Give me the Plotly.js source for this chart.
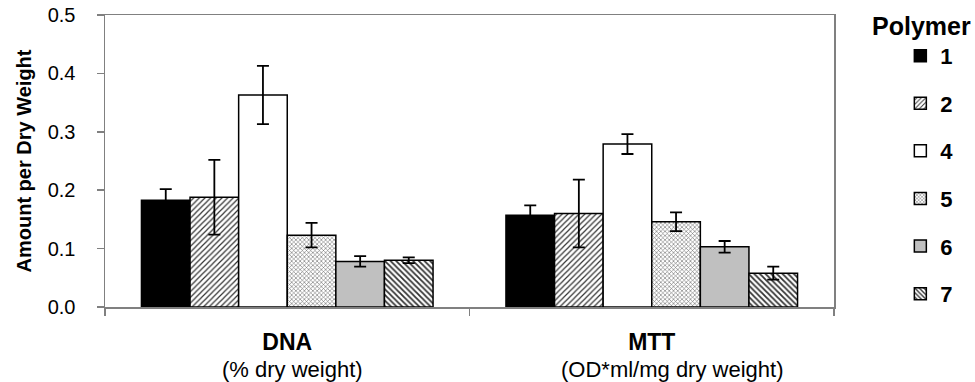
<!DOCTYPE html>
<html>
<head>
<meta charset="utf-8">
<script src="https://cdn.plot.ly/plotly-3.0.1.min.js"></script>
<style>html,body{margin:0;padding:0;background:#fff;}#chart{width:975px;height:382px;}</style>
</head>
<body>
<div id="chart"></div>
<script>
// ---- data ----
const categories = ['DNA', 'MTT'];
const subtitles = ['(% dry weight)', '(OD*ml/mg dry weight)'];
const polymers = ['1', '2', '4', '5', '6', '7'];
const values = {
  '1': [0.183, 0.157],
  '2': [0.188, 0.160],
  '4': [0.363, 0.279],
  '5': [0.123, 0.146],
  '6': [0.078, 0.103],
  '7': [0.080, 0.058]
};
const errors = {
  '1': [0.019, 0.017],
  '2': [0.064, 0.058],
  '4': [0.050, 0.017],
  '5': [0.021, 0.016],
  '6': [0.009, 0.010],
  '7': [0.005, 0.011]
};
const yTicks = [0, 0.1, 0.2, 0.3, 0.4, 0.5];

// ---- styles ----
const FONT = 'Liberation Sans, Arial, Helvetica, sans-serif';
const fills = {
  '1': {color: '#000000', pattern: {shape: ''}},
  '2': {color: '#ffffff', pattern: {shape: '/', fgcolor: '#333333', bgcolor: '#ffffff', size: 4, solidity: 0.3, fillmode: 'replace'}},
  '4': {color: '#ffffff', pattern: {shape: ''}},
  '5': {color: '#ffffff', pattern: {shape: 'x', fgcolor: '#6a6a6a', bgcolor: '#ffffff', size: 3, solidity: 0.35, fillmode: 'replace'}},
  '6': {color: '#c0c0c0', pattern: {shape: ''}},
  '7': {color: '#ffffff', pattern: {shape: '\\', fgcolor: '#333333', bgcolor: '#ffffff', size: 4, solidity: 0.45, fillmode: 'replace'}}
};

const traces = polymers.map(p => ({
  type: 'bar',
  name: '<b>' + p + '</b>',
  legendgroup: 'g' + p,
  x: categories,
  y: values[p],
  error_y: {type: 'data', array: errors[p], visible: true, color: '#000', thickness: 1.8, width: 6},
  marker: {color: fills[p].color, pattern: fills[p].pattern, line: {color: '#000', width: 1.5}},
  hoverinfo: 'skip'
}));

const annotations = categories.map((c, i) => ({
  x: c, xref: 'x', y: -0.213, yref: 'paper',
  text: subtitles[i], showarrow: false,
  xanchor: 'center', yanchor: 'middle',
  xshift: i === 0 ? 5 : 20,
  font: {family: FONT, size: 22, color: '#000'}
}));
annotations.push({
  x: 1.1207, xref: 'paper', y: 0.962, yref: 'paper',
  text: '<b>Polymer</b>', showarrow: false,
  xanchor: 'center', yanchor: 'middle',
  font: {family: FONT, size: 25, color: '#000'}
});

const layout = {
  width: 975, height: 382,
  margin: {l: 105, r: 141, t: 15, b: 75, pad: 0},
  paper_bgcolor: '#fff', plot_bgcolor: '#fff',
  font: {family: FONT, color: '#000'},
  barmode: 'group', bargap: 0.2, bargroupgap: 0,
  showlegend: true,
  legend: {
    x: 1.091, xanchor: 'left', y: 0.932, yanchor: 'top',
    traceorder: 'grouped', tracegroupgap: 16,
    font: {family: FONT, size: 22, color: '#000'},
    bgcolor: 'rgba(0,0,0,0)'
  },
  xaxis: {
    type: 'category',
    tickmode: 'array', tickvals: categories,
    ticktext: categories.map(c => '<b>' + c + '</b>'),
    tickson: 'boundaries', ticks: 'outside', ticklen: 7, tickwidth: 1.5, tickcolor: '#808080',
    showline: true, linecolor: '#808080', linewidth: 1.5, mirror: true,
    showgrid: false, zeroline: false,
    ticklabelstandoff: 14,
    tickfont: {family: FONT, size: 23, color: '#000'}
  },
  yaxis: {
    range: [0, 0.5],
    tickmode: 'array', tickvals: yTicks, ticktext: yTicks.map(v => v.toFixed(1)),
    ticks: 'outside', ticklen: 7, tickwidth: 1.5, tickcolor: '#808080',
    showline: true, linecolor: '#808080', linewidth: 1.5, mirror: true,
    showgrid: false, zeroline: false,
    ticklabelstandoff: 17,
    tickfont: {family: FONT, size: 20, color: '#000'},
    title: {text: '<b>Amount per Dry Weight</b>', font: {family: FONT, size: 20, color: '#000'}, standoff: 10}
  },
  annotations: annotations
};

Plotly.newPlot('chart', traces, layout, {displayModeBar: false, staticPlot: true});
</script>
</body>
</html>
